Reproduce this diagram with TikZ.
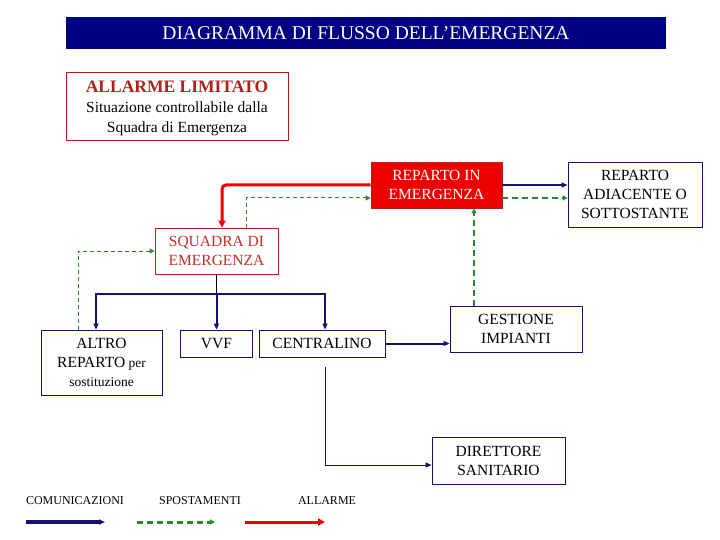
\documentclass[tikz,border=0pt]{standalone}
\usepackage{fontspec}
\setmainfont{Liberation Serif}
\usetikzlibrary{arrows.meta,positioning,calc}
\definecolor{Navy}{HTML}{000080}
\definecolor{NavyLine}{HTML}{14146E}
\definecolor{AlarmRed}{HTML}{EE0000}
\definecolor{DarkRed}{HTML}{B0201C}
\definecolor{TextRed}{HTML}{C0302A}
\definecolor{MoveGreen}{HTML}{2A8A2A}
\tikzset{
  navybox/.style={draw=NavyLine,fill=white,line width=0.8pt,align=center,font=\fontsize{15.5}{19}\selectfont,text=black,inner sep=0pt},
  redbox/.style={draw=DarkRed,fill=white,line width=0.8pt,align=center,font=\fontsize{15.5}{19}\selectfont,text=TextRed,inner sep=0pt},
  alertbox/.style={draw=DarkRed,fill=AlarmRed,line width=0.8pt,align=center,font=\fontsize{15.5}{19}\selectfont,text=white,inner sep=0pt},
  commline/.style={-{Triangle[length=6pt,width=5pt]},draw=NavyLine,line width=2pt},
  thincomm/.style={-{Triangle[length=6pt,width=5pt]},draw=NavyLine,line width=1pt},
  moveline/.style={-{Triangle[length=5pt,width=5pt]},draw=MoveGreen,line width=1.8pt,dash pattern=on 6pt off 4pt},
  thinmove/.style={-{Triangle[length=5pt,width=5pt]},draw=MoveGreen,line width=1pt,dash pattern=on 4pt off 3pt},
  alarmline/.style={-{Triangle[length=7pt,width=7pt]},draw=AlarmRed,line width=3pt}
}
\begin{document}
\begin{tikzpicture}[x=1pt,y=-1pt]
  \useasboundingbox (0,0) rectangle (720,540);
  \node[fill=Navy,minimum width=600pt,minimum height=32pt,text=white,font=\fontsize{19.5}{22}\selectfont] (title) at (366,33) {DIAGRAMMA DI FLUSSO DELL’EMERGENZA};
  \node[redbox,text=black,minimum width=222pt,minimum height=68pt,font=\fontsize{15.5}{20}\selectfont] (limitato) at (177,106) {};
  \node[align=center,font=\fontsize{15.5}{20}\selectfont] (limtext) at (177,108)
    {{\fontsize{17.5}{20}\selectfont\bfseries\color{DarkRed}ALLARME LIMITATO}\\Situazione controllabile dalla\\Squadra di Emergenza};
  \node[alertbox,minimum width=131pt,minimum height=46pt] (reparto) at (436.5,185) {REPARTO IN\\EMERGENZA};
  \node[navybox,minimum width=134pt,minimum height=65pt] (adiacente) at (635,194.5) {REPARTO\\ADIACENTE O\\SOTTOSTANTE};
  \node[redbox,minimum width=123pt,minimum height=46pt] (squadra) at (216.5,251) {SQUADRA DI\\EMERGENZA};
  \node[navybox,minimum width=121pt,minimum height=65pt] (altro) at (101.5,362.5)
    {ALTRO\\REPARTO{\fontsize{13.5}{19}\selectfont\ per}\\{\fontsize{13.5}{19}\selectfont sostituzione}};
  \node[navybox,minimum width=72pt,minimum height=27pt] (vvf) at (216.5,343.5) {VVF};
  \node[navybox,minimum width=126pt,minimum height=27pt] (centralino) at (322,343.5) {CENTRALINO};
  \node[navybox,minimum width=132pt,minimum height=46pt] (gestione) at (516,329) {GESTIONE\\IMPIANTI};
  \node[navybox,minimum width=133pt,minimum height=47pt] (direttore) at (498.5,460.5) {DIRETTORE\\SANITARIO};

  \draw[alarmline,rounded corners=4pt] (reparto.west) -| ([xshift=5.5pt]squadra.north);
  \draw[thinmove] ([xshift=29.5pt]squadra.north) |- ([yshift=-13pt]reparto.west);
  \draw[commline] (reparto.east) -- (reparto.east -| adiacente.west);
  \draw[moveline] ([yshift=-13pt]reparto.east) -- ([yshift=-13pt]reparto.east -| adiacente.west);
  \draw[moveline] ([xshift=-42pt]gestione.north) -- ([xshift=-42pt]gestione.north |- reparto.south);
  \draw[thinmove] ([xshift=-23.5pt]altro.north) |- (squadra.west);

  \coordinate (bus) at (216.5,294);
  \draw[line width=0.8pt] (squadra.south) -- (bus);
  \draw[commline] (bus) -| ([xshift=-5.5pt]altro.north);
  \draw[commline] (bus) -- (vvf.north);
  \draw[commline] (bus) -| ([xshift=3pt]centralino.north);
  \draw[commline] (centralino.east) -- (centralino.east -| gestione.west);
  \draw[thincomm] ([shift={(3pt,-10pt)}]centralino.south) |- ([yshift=-4.5pt]direttore.west);

  \node[font=\fontsize{12}{14}\selectfont] (comm) at (75,501) {COMUNICAZIONI};
  \node[font=\fontsize{12}{14}\selectfont] (spost) at (200,501) {SPOSTAMENTI};
  \node[font=\fontsize{12}{14}\selectfont] (allarme) at (327,501) {ALLARME};
  \coordinate (commA) at (26,522);
  \coordinate (commB) at (105,522);
  \coordinate (spostA) at (137,522);
  \coordinate (spostB) at (215,522);
  \coordinate (allA) at (245,522);
  \coordinate (allB) at (325,522);
  \draw[commline,line width=3.5pt] (commA) -- (commB);
  \draw[moveline,line width=3pt] (spostA) -- (spostB);
  \draw[alarmline] (allA) -- (allB);
\end{tikzpicture}
\end{document}
